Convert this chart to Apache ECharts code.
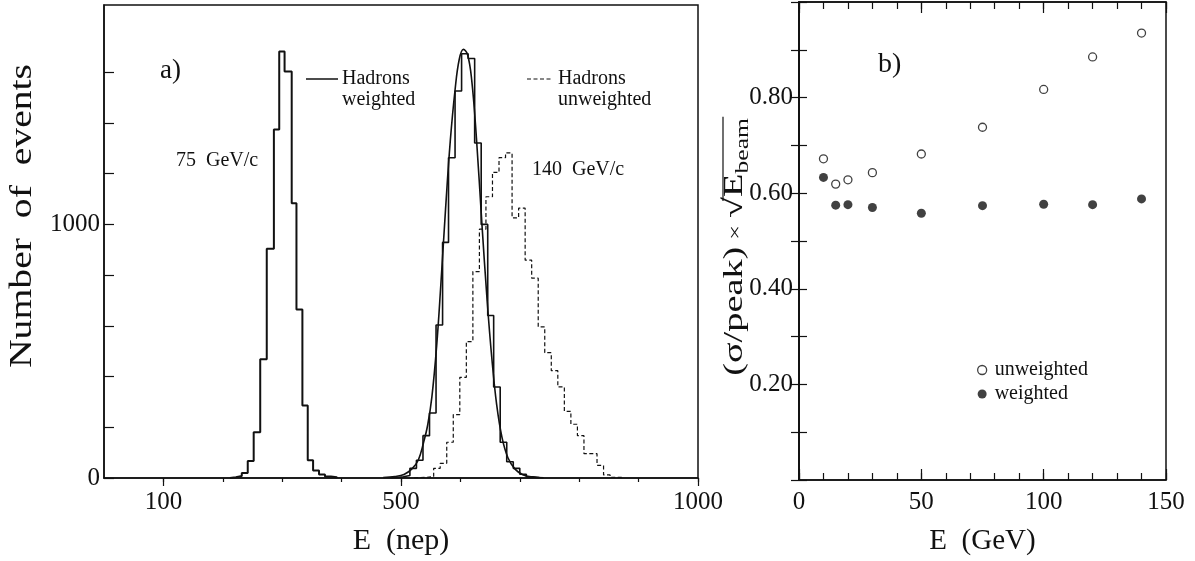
<!DOCTYPE html>
<html><head><meta charset="utf-8">
<script src="https://cdn.jsdelivr.net/npm/echarts@6/dist/echarts.min.js"></script>
<style>html,body{margin:0;padding:0;background:#fff}#c{width:1195px;height:561px}</style>
</head><body><div id="c"></div>
<script>
// ---------- Panel a) : histograms, E in nep ----------
// 75 GeV/c hadrons (weighted), bin edges and counts
const edges75  = [212,222,232,242,252,263,274,286,295,304,316,324,334,343,352,362,372,382,392];
const counts75 = [3,8,20,67,180,468,904,1374,1682,1603,1083,664,286,70,30,14,6,3];
// 140 GeV/c hadrons weighted (solid)
const edgesW140  = [482,493,504,515,526,537,548,559,570,580,591,602,613,624,635,646,656,667,678,689,700,711,722,733];
const countsW140 = [2,5,10,38,70,167,256,603,929,1263,1526,1673,1654,1321,1000,641,359,141,64,38,15,5,2];
// smooth fitted curve over the weighted 140 GeV/c histogram
const fitX = [470,490,505,518,529,538,545,552,560,567,575,583,591,598,605,612,619,627,636,645,653,661,670,680,692,705,720,740];
const fitY = [2,6,14,35,70,140,210,320,520,760,1060,1330,1530,1650,1690,1670,1570,1340,1010,700,470,290,160,80,35,13,4,1];
// 140 GeV/c hadrons unweighted (dashed)
const edgesU140  = [522,533,544,555,566,577,588,599,610,621,632,643,654,665,676,687,698,709,720,731,742,753,764,775,786,797,808,819,830,841,852,863,874];
const countsU140 = [2,3,6,38,58,141,250,397,538,814,981,1109,1205,1263,1282,1026,1064,859,788,596,494,423,359,263,212,167,96,96,50,12,3,2];
const xLabelsA = [100,500,1000];
const yLabelsA = [0,1000];
const yTicksA  = [0,200,400,600,800,1000,1200,1400,1600];

// ---------- Panel b) : resolution vs energy ----------
const energies   = [10,15,20,30,50,75,100,120,140];
const unweighted = [0.672,0.619,0.628,0.643,0.682,0.738,0.817,0.885,0.935];
const weighted   = [0.633,0.575,0.576,0.570,0.558,0.574,0.577,0.576,0.588];
const yLabelsB   = [0.2,0.4,0.6,0.8];
const xLabelsB   = [0,50,100,150];

function hist(edges, counts){
  const d = [[edges[0],0]];
  for (let i=0;i<counts.length;i++) d.push([edges[i],counts[i]]);
  d.push([edges[edges.length-1],0]);
  return d;
}
const FF = '"Liberation Serif","DejaVu Serif",serif';
const C = '#111';

const mctx = document.createElement('canvas').getContext('2d');
function tw(txt,size){ mctx.font = size+'px '+FF; return mctx.measureText(txt).width; }

const chart = echarts.init(document.getElementById('c'), null, {renderer:'canvas'});

const axLine = {show:true, lineStyle:{color:C, width:1.5}};
const tickStyle = {color:C, width:1.2};

// composed label "(σ/peak) × √E_beam", drawn bottom-to-top
const s1='(σ/peak)', s2=' × ', s3='√', s4='E', s5='beam';
const fm=27, fx=19, fs=18;
const stretchB = 1.42;
const w1=tw(s1,fm), w2=tw(s2,fx), w3=tw(s3,fm), w4=tw(s4,fm), w5=tw(s5,fs);
const totalW = w1+w2+w3+w4+w5;
let lx=0; const parts=[];
function addT(t,size,dy){ parts.push({type:'text', x:lx, y:dy, style:{text:t, font:size+'px '+FF, fill:C, align:'left', verticalAlign:'middle'}}); }
addT(s1,fm,0); lx+=w1;
addT(s2,fx,1); lx+=w2;
addT(s3,fm,0); const ovStart = lx + w3*0.8; lx+=w3;
addT(s4,fm,0); lx+=w4;
addT(s5,fs,8); lx+=w5;
parts.push({type:'line', shape:{x1:ovStart, y1:-12, x2:lx+1, y2:-12}, style:{stroke:C, lineWidth:1.2}});
const titleBCenterY = 247;

const option = {
  animation:false,
  backgroundColor:'#fff',
  grid:[
    {left:104, top:5, width:594, height:485, show:true, borderColor:C, borderWidth:1.5, backgroundColor:'transparent'},
    {left:799, top:2, width:367, height:489, show:true, borderColor:C, borderWidth:1.5, backgroundColor:'transparent'}
  ],
  xAxis:[
    {gridIndex:0, type:'value', position:'bottom', min:0, max:1000, interval:100, axisLine:axLine, splitLine:{show:false},
     axisTick:{show:true, inside:false, length:4, lineStyle:tickStyle},
     axisLabel:{formatter:v=>xLabelsA.includes(v)?String(v):'', fontFamily:FF, fontSize:25, color:C, margin:12, showMinLabel:false},
     name:'E  (nep)', nameLocation:'middle', nameGap:48, nameTextStyle:{fontFamily:FF, fontSize:30, color:C}},
    {gridIndex:0, type:'value', position:'bottom', min:0, max:1000, interval:100, axisLine:{show:false}, splitLine:{show:false},
     axisTick:{show:true, inside:false, length:8, customValues:xLabelsA, lineStyle:tickStyle}, axisLabel:{show:false}},
    {gridIndex:1, type:'value', position:'bottom', min:0, max:150, interval:10, axisLine:axLine, splitLine:{show:false},
     axisTick:{show:true, inside:true, length:7, lineStyle:tickStyle},
     axisLabel:{formatter:v=>xLabelsB.includes(v)?String(v):'', fontFamily:FF, fontSize:25, color:C, margin:10},
     name:'E  (GeV)', nameLocation:'middle', nameGap:47, nameTextStyle:{fontFamily:FF, fontSize:29, color:C}},
    {gridIndex:1, type:'value', position:'bottom', min:0, max:150, interval:50, axisLine:{show:false}, splitLine:{show:false},
     axisTick:{show:true, inside:true, length:11, lineStyle:tickStyle}, axisLabel:{show:false}},
    {gridIndex:1, type:'value', position:'top', min:0, max:150, interval:10, axisLine:axLine, splitLine:{show:false},
     axisTick:{show:true, inside:true, length:7, lineStyle:tickStyle}, axisLabel:{show:false}},
    {gridIndex:1, type:'value', position:'top', min:0, max:150, interval:50, axisLine:{show:false}, splitLine:{show:false},
     axisTick:{show:true, inside:true, length:11, lineStyle:tickStyle}, axisLabel:{show:false}}
  ],
  yAxis:[
    {gridIndex:0, type:'value', position:'left', min:0, max:1865, interval:200, axisLine:axLine, splitLine:{show:false},
     axisTick:{show:true, inside:true, length:10, customValues:yTicksA, lineStyle:tickStyle},
     axisLabel:{customValues:yLabelsA, formatter:v=>yLabelsA.includes(v)?String(v):'', fontFamily:FF, fontSize:25, color:C, margin:4}},
    {gridIndex:1, type:'value', position:'left', min:0, max:1.0, interval:0.1, axisLine:axLine, splitLine:{show:false},
     axisTick:{show:true, inside:true, length:8, lineStyle:tickStyle},
     axisLabel:{formatter:v=>yLabelsB.some(t=>Math.abs(t-v)<1e-6)?v.toFixed(2):'', fontFamily:FF, fontSize:25, color:C, margin:6}},
    {gridIndex:1, type:'value', position:'right', min:0, max:1.0, interval:0.1, axisLine:axLine, splitLine:{show:false},
     axisTick:{show:true, inside:true, length:8, lineStyle:tickStyle}, axisLabel:{show:false}}
  ],
  legend:{
    orient:'vertical', left:972, top:355, itemWidth:9, itemHeight:9, itemGap:4,
    textStyle:{fontFamily:FF, fontSize:20, color:C, padding:[0,0,0,3]},
    data:[
      {name:'unweighted', icon:'circle', itemStyle:{color:'#fff', borderColor:C, borderWidth:1.3}},
      {name:'weighted', icon:'circle', itemStyle:{color:C}}
    ]
  },
  series:[
    {name:'75 GeV/c', type:'line', xAxisIndex:0, yAxisIndex:0, step:'end', symbol:'none',
     data:hist(edges75,counts75), lineStyle:{color:C, width:2}},
    {name:'140 weighted', type:'line', xAxisIndex:0, yAxisIndex:0, step:'end', symbol:'none',
     data:hist(edgesW140,countsW140), lineStyle:{color:C, width:1.6}},
    {name:'fit', type:'line', xAxisIndex:0, yAxisIndex:0, smooth:0.4, symbol:'none',
     data:fitX.map((x,i)=>[x,fitY[i]]), lineStyle:{color:C, width:1.6}},
    {name:'140 unweighted', type:'line', xAxisIndex:0, yAxisIndex:0, step:'end', symbol:'none',
     data:hist(edgesU140,countsU140), lineStyle:{color:C, width:1.2, type:[4,2.5]}},
    {name:'unweighted', type:'scatter', xAxisIndex:2, yAxisIndex:1, symbol:'circle', symbolSize:8,
     data:energies.map((e,i)=>[e,unweighted[i]]), itemStyle:{color:'#fff', borderColor:C, borderWidth:1.3}},
    {name:'weighted', type:'scatter', xAxisIndex:2, yAxisIndex:1, symbol:'circle', symbolSize:9,
     data:energies.map((e,i)=>[e,weighted[i]]), itemStyle:{color:C}}
  ],
  graphic:[
    {type:'text', x:160, y:71, style:{text:'a)', font:'27px '+FF, fill:C, verticalAlign:'middle'}},
    {type:'text', x:176, y:161, style:{text:'75  GeV/c', font:'20px '+FF, fill:C, verticalAlign:'middle'}},
    {type:'line', shape:{x1:306, y1:79, x2:338, y2:79}, style:{stroke:C, lineWidth:1.5}},
    {type:'text', x:342, y:79, style:{text:'Hadrons', font:'20px '+FF, fill:C, verticalAlign:'middle'}},
    {type:'text', x:342, y:100, style:{text:'weighted', font:'20px '+FF, fill:C, verticalAlign:'middle'}},
    {type:'line', shape:{x1:527, y1:79, x2:552, y2:79}, style:{stroke:C, lineWidth:1.2, lineDash:[4,2.5]}},
    {type:'text', x:558, y:79, style:{text:'Hadrons', font:'20px '+FF, fill:C, verticalAlign:'middle'}},
    {type:'text', x:558, y:100, style:{text:'unweighted', font:'20px '+FF, fill:C, verticalAlign:'middle'}},
    {type:'text', x:532, y:170, style:{text:'140  GeV/c', font:'20px '+FF, fill:C, verticalAlign:'middle'}},
    {type:'text', x:878, y:65, style:{text:'b)', font:'28px '+FF, fill:C, verticalAlign:'middle'}},
    {type:'text', x:23, y:216, rotation:Math.PI/2, scaleX:1.28, style:{text:'Number  of  events', font:'31px '+FF, fill:C, align:'center', verticalAlign:'middle'}},
    {type:'group', x:735, y:titleBCenterY + totalW*stretchB/2, rotation:Math.PI/2, scaleX:stretchB, children:parts}
  ]
};
chart.setOption(option);
</script>
</body></html>
